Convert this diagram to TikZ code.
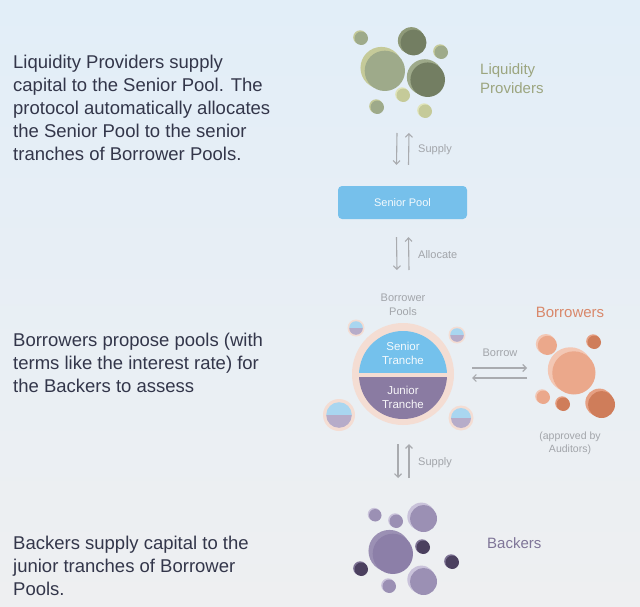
\documentclass[tikz,border=0pt]{standalone}
\usepackage{fontspec}
\setmainfont{Liberation Sans}
\usetikzlibrary{arrows.meta, positioning, calc}

\definecolor{bgtop}{HTML}{E2EEF8}
\definecolor{bgbot}{HTML}{EEEFF1}
\definecolor{bodytext}{HTML}{33364A}
\definecolor{labelgrey}{HTML}{A2A5AA}
\definecolor{arrowgrey}{HTML}{A9ABAF}
\definecolor{lpdark}{HTML}{737E62}
\definecolor{lpdarkbk}{HTML}{8F9A79}
\definecolor{lpmid}{HTML}{9EAA8A}
\definecolor{lppale}{HTML}{C5CA99}
\definecolor{lpwhite}{HTML}{E0E4B9}
\definecolor{lpcol}{HTML}{9CA57F}
\definecolor{poolblue}{HTML}{76C0EB}
\definecolor{ring}{HTML}{F4DDD3}
\definecolor{senior}{HTML}{74C1EC}
\definecolor{junior}{HTML}{8A7BA2}
\definecolor{seniorlt}{HTML}{A9D6F0}
\definecolor{juniorlt}{HTML}{B6ACC9}
\definecolor{brcol}{HTML}{D9886B}
\definecolor{brpale}{HTML}{F3C7B4}
\definecolor{brmid}{HTML}{EBA88B}
\definecolor{brdark}{HTML}{CF7D5A}
\definecolor{brdarkbk}{HTML}{E6A083}
\definecolor{bkcol}{HTML}{7F7598}
\definecolor{bkpale}{HTML}{C9C2DA}
\definecolor{bkmid}{HTML}{9B90B4}
\definecolor{bkbig}{HTML}{8C7FA8}
\definecolor{bkdark}{HTML}{4B405F}
\definecolor{bkdarkbk}{HTML}{7D7294}

\begin{document}
\begin{tikzpicture}[x=1pt, y=-1pt, >={Straight Barb[length=3.5pt, width=7pt]},
  desc/.style={anchor=north west, align=left, inner sep=0pt, text=bodytext,
               font=\fontsize{18.5}{23}\selectfont},
  small/.style={text=labelgrey, font=\fontsize{11}{13.5}\selectfont, inner sep=0pt},
  head/.style={font=\fontsize{15}{19}\selectfont, inner sep=0pt},
  flow/.style={draw=arrowgrey, line width=1.1pt}]

  \shade[top color=bgtop, bottom color=bgbot] (0,0) rectangle (640,607);
  \useasboundingbox (0,0) rectangle (640,607);

  % left column texts
  \node[desc] (lptext) at (13,54.5) {Liquidity Providers supply\\capital to the Senior Pool. The\\protocol automatically allocates\\the Senior Pool to the senior\\tranches of Borrower Pools.};
  \node[desc] (brtext) at (13,332.5) {Borrowers propose pools (with\\terms like the interest rate) for\\the Backers to assess};
  \node[desc] (bktext) at (13,535.5) {Backers supply capital to the\\junior tranches of Borrower\\Pools.};

  % liquidity providers
  \foreach \x/\y/\r/\b/\f in {361/38/7/lppale/lpmid, 413/42/13.5/lpdarkbk/lpdark,
      441/52/7/lppale/lpmid, 384/70/21/lppale/lpmid, 427/79/18/lpmid/lpdark,
      403/95/7/lpwhite/lppale, 377/107/7/lppale/lpmid, 425/111/7/lpwhite/lppale} {
    \fill[\b] (\x-0.12*\r,\y-0.1*\r) circle (\r pt);
    \fill[\f] (\x+0.04*\r,\y+0.04*\r) circle (0.96*\r pt);
  }
  \node[head, text=lpcol, align=left, anchor=west] (lplabel) at (480,79) {Liquidity\\Providers};

  % senior pool
  \coordinate (lpfoot) at (403,133);
  \node[fill=poolblue, rounded corners=4pt, minimum width=129pt, minimum height=33pt,
        text=white!92!poolblue, font=\fontsize{11}{13}\selectfont] (seniorpool) at (402.5,202.5) {Senior Pool};
  \coordinate (spin) at ([yshift=21pt]seniorpool.north);
  \draw[flow,->] ([xshift=-6pt]lpfoot) -- ([xshift=-6pt]spin);
  \draw[flow,->] ([xshift=6pt]spin) -- ([xshift=6pt]lpfoot);
  \node[small, anchor=west] (supply1) at (418,150) {Supply};

  % borrower pools
  \node[small, align=center] (poolslabel) at (403,305) {Borrower\\Pools};
  \node[circle, fill=ring, minimum size=102pt, inner sep=0pt] (pool) at (403,374) {};
  \begin{scope}
    \clip (340,300) rectangle (470,372.5);
    \fill[senior] (403,375) circle (44pt);
  \end{scope}
  \begin{scope}
    \clip (340,377.5) rectangle (470,440);
    \fill[junior] (403,375) circle (44pt);
  \end{scope}
  \node[text=white!92!senior, align=center, font=\fontsize{11.5}{14}\selectfont] (seniortr) at (403,353) {Senior\\Tranche};
  \node[text=white!92!junior, align=center, font=\fontsize{11.5}{14}\selectfont] (juniortr) at (403,397) {Junior\\Tranche};
  \foreach \x/\y/\r in {356/328/8.5, 457/335/8.5, 339/415/16, 461/418/12.5} {
    \fill[ring] (\x,\y) circle (\r pt);
    \begin{scope}
      \clip (\x-\r,\y-\r) rectangle (\x+\r,\y-0.05*\r);
      \fill[seniorlt] (\x,\y) circle (0.8*\r pt);
    \end{scope}
    \begin{scope}
      \clip (\x-\r,\y+0.05*\r) rectangle (\x+\r,\y+\r);
      \fill[juniorlt] (\x,\y) circle (0.8*\r pt);
    \end{scope}
  }
  \coordinate (alloctop) at ([yshift=-18pt]seniorpool.south);
  \coordinate (allocbot) at (403,270);
  \draw[flow,->] ([xshift=-6pt]alloctop) -- ([xshift=-6pt]allocbot);
  \draw[flow,->] ([xshift=6pt]allocbot) -- ([xshift=6pt]alloctop);
  \node[small, anchor=west] (allocate) at (418,255) {Allocate};

  % borrowers
  \foreach \x/\y/\r/\b/\f in {547/345/10/brpale/brmid, 594/342/7/brdarkbk/brdark,
      573/372/22.5/brpale/brmid, 543/397/7/brpale/brmid, 563/404/7/brdarkbk/brdark,
      601/404/14/brdarkbk/brdark} {
    \fill[\b] (\x-0.12*\r,\y-0.1*\r) circle (\r pt);
    \fill[\f] (\x+0.04*\r,\y+0.04*\r) circle (0.96*\r pt);
  }
  \node[head, text=brcol] (brlabel) at (570,312) {Borrowers};
  \node[small, align=center, font=\fontsize{10.5}{13}\selectfont] (auditors) at (570,443) {(approved by\\Auditors)};
  \coordinate (poolside) at (472,373);
  \coordinate (brfoot) at (527,373);
  \draw[flow,->] ([yshift=5pt]poolside) -- ([yshift=5pt]brfoot);
  \draw[flow,->] ([yshift=-5pt]brfoot) -- ([yshift=-5pt]poolside);
  \node[small] (borrow) at (500,353) {Borrow};

  % backers
  \coordinate (pooltail) at ([yshift=-19pt]pool.south);
  \coordinate (bktop) at (403,478);
  \draw[flow,->] ([xshift=-5pt]pooltail) -- ([xshift=-5pt]bktop);
  \draw[flow,->] ([xshift=6pt]bktop) -- ([xshift=6pt]pooltail);
  \node[small, anchor=west] (supply2) at (418,463) {Supply};
  \foreach \x/\y/\r/\b/\f in {375/515/6.5/bkpale/bkmid, 396/521/7/bkpale/bkmid,
      423/518/14/bkpale/bkmid, 392/553/21/bkmid/bkbig, 423/547/7/bkdarkbk/bkdark,
      361/569/7/bkdarkbk/bkdark, 452/562/7/bkdarkbk/bkdark, 389/586/7/bkpale/bkmid,
      423/581/14/bkpale/bkmid} {
    \fill[\b] (\x-0.12*\r,\y-0.1*\r) circle (\r pt);
    \fill[\f] (\x+0.04*\r,\y+0.04*\r) circle (0.96*\r pt);
  }
  \node[head, text=bkcol, anchor=west] (bklabel) at (487,543) {Backers};
\end{tikzpicture}
\end{document}
